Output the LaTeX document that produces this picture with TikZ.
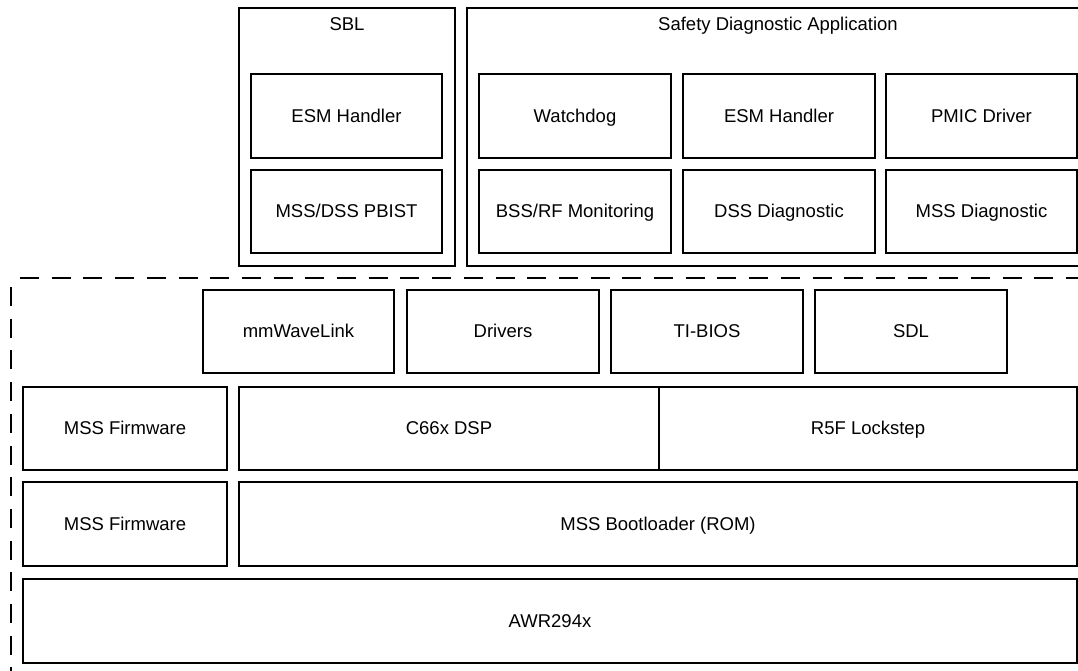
\documentclass[tikz,border=0pt]{standalone}
\usepackage{fontspec}
\setmainfont{Liberation Sans}
\begin{document}
\begin{tikzpicture}[x=1pt,y=-1pt,
  box/.style={draw=black, line width=1.7pt, inner sep=0pt, text height=16pt, text depth=3.4pt, font=\fontsize{18.5}{22}\selectfont},
  ttl/.style={inner sep=0pt, text height=13.3pt, text depth=3.5pt, font=\fontsize{18.5}{22}\selectfont},
  bound/.style={draw=black, line width=1.7pt, dash pattern=on 19pt off 12.7pt, dash phase=22.7pt}]
\useasboundingbox (0,0) rectangle (1078,670);
\newcommand{\bx}[6]{%
  \node[box, minimum width={#4-#2}, minimum height={#5-#3}] (#1) at ({(#2+#4)/2},{(#3+#5)/2}) {#6};}
% top groups
\bx{sbl}{239}{8}{455}{266}{}
\bx{sda}{467}{8}{1080}{266}{}
\node[ttl] (sblt) at (347,26) {SBL};
\node[ttl] (sdat) at (778,26) {Safety Diagnostic Application};
\bx{sblesm}{251}{74}{442}{158}{ESM Handler}
\bx{sblpbist}{251}{170}{442}{253}{MSS/DSS PBIST}
\bx{wd}{479}{74}{671}{158}{Watchdog}
\bx{esm}{683}{74}{875}{158}{ESM Handler}
\bx{pmic}{886}{74}{1077}{158}{PMIC Driver}
\bx{bss}{479}{170}{671}{253}{BSS/RF Monitoring}
\bx{dssd}{683}{170}{875}{253}{DSS Diagnostic}
\bx{mssd}{886}{170}{1077}{253}{MSS Diagnostic}
% dashed boundary
\coordinate (dc) at (11,278);
\coordinate (dr) at (1080,278);
\coordinate (db) at (11,672);
\draw[bound] (dc) -- (dr);
\draw[bound] (dc) -- (db);
% software layer
\bx{mmw}{203}{290}{394}{373}{mmWaveLink}
\bx{drv}{407}{290}{599}{373}{Drivers}
\bx{tib}{611}{290}{803}{373}{TI-BIOS}
\bx{sdl}{815}{290}{1007}{373}{SDL}
% firmware rows
\bx{fw1}{23}{387}{227}{470}{MSS Firmware}
\bx{c66}{239}{387}{659}{470}{C66x DSP}
\bx{r5f}{659}{387}{1077}{470}{R5F Lockstep}
\bx{fw2}{23}{482}{227}{566}{MSS Firmware}
\bx{boot}{239}{482}{1077}{566}{MSS Bootloader (ROM)}
\bx{awr}{23}{579}{1077}{663}{AWR294x}
\end{tikzpicture}
\end{document}
